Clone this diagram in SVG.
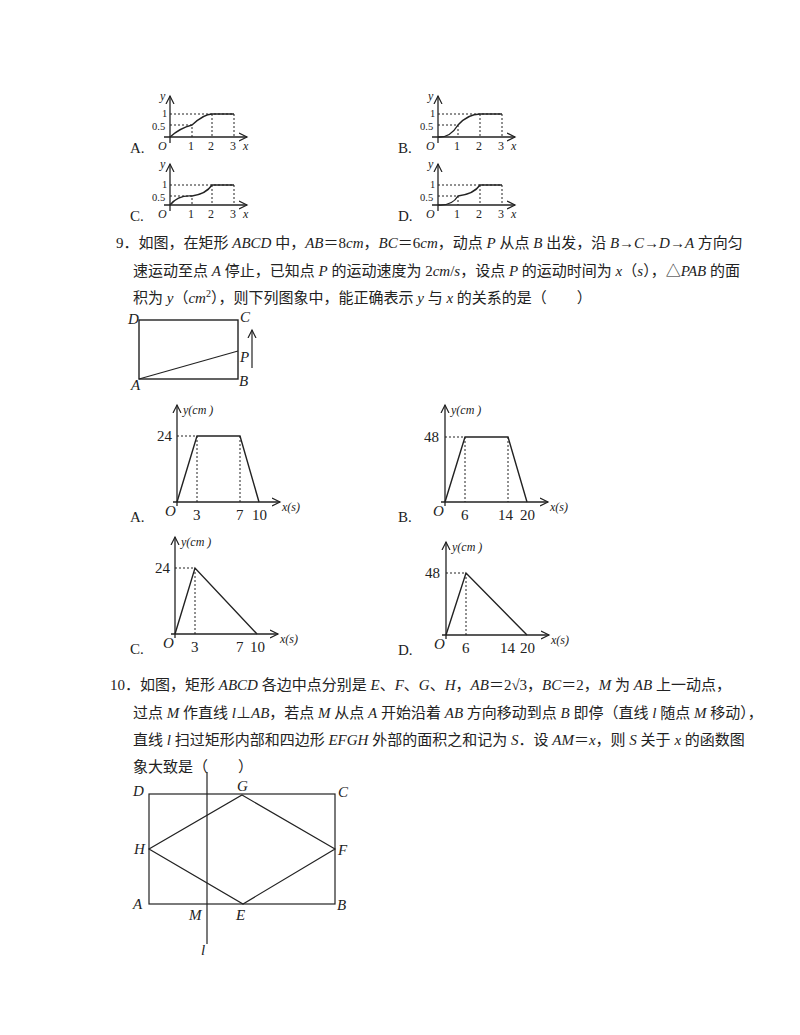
<svg xmlns="http://www.w3.org/2000/svg" width="800" height="1035" viewBox="0 0 800 1035">
<style>
.t{font-family:"Liberation Serif","Noto Sans CJK SC",serif;font-size:15px;fill:#222}
.s{font-family:"Liberation Serif",serif;font-size:12px;fill:#222}
.k{font-family:"Liberation Serif",serif;font-size:10.5px;fill:#222}
.i{font-style:italic}
.ax{stroke:#222;stroke-width:1.3;fill:none}
.d{stroke:#222;stroke-width:1;stroke-dasharray:2,2;fill:none}
.c{stroke:#222;stroke-width:1.4;fill:none}
.l{stroke:#222;stroke-width:1.2;fill:none}
</style>
<defs>
<marker id="ar" markerWidth="10" markerHeight="10" refX="8" refY="5" orient="auto" markerUnits="userSpaceOnUse"><path d="M0,1 L8,5 L0,9" fill="none" stroke="#222" stroke-width="1.2"/></marker>
</defs>
<rect width="800" height="1035" fill="#fff"/>

<g id="g8A">
<line class="ax" x1="170" y1="143" x2="170" y2="96" marker-end="url(#ar)"/><line class="ax" x1="164" y1="137" x2="247" y2="137" marker-end="url(#ar)"/>
<path class="d" d="M170 114H234V137M170 125H192V137M212 114V137"/>
<path class="c" d="M170 137Q180 128 192 125Q204 114 212 114H234"/>
<text class="s i" x="160" y="100">y</text><text class="k" x="162" y="117">1</text><text class="k" x="152" y="130">0.5</text>
<text class="s i" x="158" y="150">O</text><text class="s" x="188" y="150">1</text><text class="s" x="208" y="150">2</text><text class="s" x="230" y="150">3</text><text class="s i" x="243" y="150">x</text>
<text class="t" x="130" y="153">A.</text>
</g>
<g id="g8B">
<line class="ax" x1="438" y1="143" x2="438" y2="96" marker-end="url(#ar)"/><line class="ax" x1="432" y1="137" x2="515" y2="137" marker-end="url(#ar)"/>
<path class="d" d="M438 114H502V137M438 125H458V137M480 114V137"/>
<path class="c" d="M438 137Q450 138 458 125Q468 114 480 114H502"/>
<text class="s i" x="428" y="100">y</text><text class="k" x="430" y="117">1</text><text class="k" x="420" y="130">0.5</text>
<text class="s i" x="426" y="150">O</text><text class="s" x="454" y="150">1</text><text class="s" x="476" y="150">2</text><text class="s" x="498" y="150">3</text><text class="s i" x="511" y="150">x</text>
<text class="t" x="398" y="153">B.</text>
</g>
<g id="g8C">
<line class="ax" x1="170" y1="211" x2="170" y2="164" marker-end="url(#ar)"/><line class="ax" x1="164" y1="205" x2="247" y2="205" marker-end="url(#ar)"/>
<path class="d" d="M170 185H234V205M170 196H192V205M212 185V205"/>
<path class="c" d="M170 205Q178 195 192 196Q206 194 212 185H234"/>
<text class="s i" x="160" y="168">y</text><text class="k" x="162" y="188">1</text><text class="k" x="152" y="201">0.5</text>
<text class="s i" x="158" y="218">O</text><text class="s" x="188" y="218">1</text><text class="s" x="208" y="218">2</text><text class="s" x="230" y="218">3</text><text class="s i" x="243" y="218">x</text>
<text class="t" x="130" y="221">C.</text>
</g>
<g id="g8D">
<line class="ax" x1="438" y1="211" x2="438" y2="164" marker-end="url(#ar)"/><line class="ax" x1="432" y1="205" x2="515" y2="205" marker-end="url(#ar)"/>
<path class="d" d="M438 185H502V205M438 196H458V205M480 185V205"/>
<path class="c" d="M438 205Q452 206 458 196Q474 194 480 185H502"/>
<text class="s i" x="428" y="168">y</text><text class="k" x="430" y="188">1</text><text class="k" x="420" y="201">0.5</text>
<text class="s i" x="426" y="218">O</text><text class="s" x="454" y="218">1</text><text class="s" x="476" y="218">2</text><text class="s" x="498" y="218">3</text><text class="s i" x="511" y="218">x</text>
<text class="t" x="398" y="221">D.</text>
</g>

<g id="q9">
<text class="t" x="116" y="248">9．如图，在矩形 <tspan class="i">ABCD</tspan> 中，<tspan class="i">AB</tspan>＝8<tspan class="i">cm</tspan>，<tspan class="i">BC</tspan>＝6<tspan class="i">cm</tspan>，动点 <tspan class="i">P</tspan> 从点 <tspan class="i">B</tspan> 出发，沿 <tspan class="i">B</tspan>→<tspan class="i">C</tspan>→<tspan class="i">D</tspan>→<tspan class="i">A</tspan> 方向匀</text>
<text class="t" x="133" y="276">速运动至点 <tspan class="i">A</tspan> 停止，已知点 <tspan class="i">P</tspan> 的运动速度为 2<tspan class="i">cm</tspan>/<tspan class="i">s</tspan>，设点 <tspan class="i">P</tspan> 的运动时间为 <tspan class="i">x</tspan>（<tspan class="i">s</tspan>），△<tspan class="i">PAB</tspan> 的面</text>
<text class="t" x="133" y="303">积为 <tspan class="i">y</tspan>（<tspan class="i">cm</tspan><tspan font-size="10" dy="-6">2</tspan><tspan dy="6">），则下列图象中，能正确表示 </tspan><tspan class="i">y</tspan> 与 <tspan class="i">x</tspan> 的关系的是（　　）</text>
</g>
<g id="fig9">
<rect class="c" x="139" y="320" width="99" height="59"/>
<line class="l" x1="139" y1="379" x2="238" y2="351"/>
<line class="l" x1="252" y1="368" x2="252" y2="330" marker-end="url(#ar)"/>
<text class="t i" x="128" y="324">D</text><text class="t i" x="240" y="322">C</text><text class="t i" x="240" y="362">P</text><text class="t i" x="239" y="386">B</text><text class="t i" x="131" y="390">A</text>
</g>

<g id="g9A">
<line class="ax" x1="177" y1="506" x2="177" y2="405" marker-end="url(#ar)"/><line class="ax" x1="173" y1="502" x2="280" y2="502" marker-end="url(#ar)"/>
<path class="d" d="M177 436H197V502M240 436V502"/>
<path class="c" d="M177 502L197 436H240L259 502"/>
<text class="s i" x="183" y="414">y(cm )</text><text class="t" x="157" y="441">24</text>
<text class="t i" x="165" y="516">O</text><text class="t" x="193" y="520">3</text><text class="t" x="236" y="520">7</text><text class="t" x="252" y="520">10</text><text class="s i" x="282" y="511">x(s)</text>
<text class="t" x="130" y="522">A.</text>
</g>
<g id="g9B">
<line class="ax" x1="445" y1="506" x2="445" y2="405" marker-end="url(#ar)"/><line class="ax" x1="441" y1="502" x2="548" y2="502" marker-end="url(#ar)"/>
<path class="d" d="M445 437H465V502M508 437V502"/>
<path class="c" d="M445 502L465 437H508L527 502"/>
<text class="s i" x="451" y="414">y(cm )</text><text class="t" x="424" y="442">48</text>
<text class="t i" x="433" y="516">O</text><text class="t" x="461" y="520">6</text><text class="t" x="498" y="520">14</text><text class="t" x="520" y="520">20</text><text class="s i" x="550" y="511">x(s)</text>
<text class="t" x="398" y="522">B.</text>
</g>
<g id="g9C">
<line class="ax" x1="175" y1="638" x2="175" y2="537" marker-end="url(#ar)"/><line class="ax" x1="171" y1="634" x2="278" y2="634" marker-end="url(#ar)"/>
<path class="d" d="M175 568H195V634"/>
<path class="c" d="M175 634L195 568L257 634"/>
<text class="s i" x="181" y="546">y(cm )</text><text class="t" x="155" y="573">24</text>
<text class="t i" x="163" y="648">O</text><text class="t" x="191" y="652">3</text><text class="t" x="236" y="652">7</text><text class="t" x="250" y="652">10</text><text class="s i" x="280" y="643">x(s)</text>
<text class="t" x="130" y="654">C.</text>
</g>
<g id="g9D">
<line class="ax" x1="446" y1="639" x2="446" y2="542" marker-end="url(#ar)"/><line class="ax" x1="442" y1="635" x2="549" y2="635" marker-end="url(#ar)"/>
<path class="d" d="M446 573H466V635"/>
<path class="c" d="M446 635L466 573L527 635"/>
<text class="s i" x="452" y="551">y(cm )</text><text class="t" x="425" y="578">48</text>
<text class="t i" x="434" y="649">O</text><text class="t" x="462" y="653">6</text><text class="t" x="500" y="653">14</text><text class="t" x="520" y="653">20</text><text class="s i" x="551" y="644">x(s)</text>
<text class="t" x="398" y="655">D.</text>
</g>

<g id="q10">
<text class="t" x="110" y="690">10．如图，矩形 <tspan class="i">ABCD</tspan> 各边中点分别是 <tspan class="i">E</tspan>、<tspan class="i">F</tspan>、<tspan class="i">G</tspan>、<tspan class="i">H</tspan>，<tspan class="i">AB</tspan>＝2√3，<tspan class="i">BC</tspan>＝2，<tspan class="i">M</tspan> 为 <tspan class="i">AB</tspan> 上一动点，</text>
<text class="t" x="133" y="718">过点 <tspan class="i">M</tspan> 作直线 <tspan class="i">l</tspan>⊥<tspan class="i">AB</tspan>，若点 <tspan class="i">M</tspan> 从点 <tspan class="i">A</tspan> 开始沿着 <tspan class="i">AB</tspan> 方向移动到点 <tspan class="i">B</tspan> 即停（直线 <tspan class="i">l</tspan> 随点 <tspan class="i">M</tspan> 移动），</text>
<text class="t" x="133" y="745">直线 <tspan class="i">l</tspan> 扫过矩形内部和四边形 <tspan class="i">EFGH</tspan> 外部的面积之和记为 <tspan class="i">S</tspan>．设 <tspan class="i">AM</tspan>＝<tspan class="i">x</tspan>，则 <tspan class="i">S</tspan> 关于 <tspan class="i">x</tspan> 的函数图</text>
<text class="t" x="133" y="772">象大致是（　　）</text>
</g>
<g id="fig10">
<rect class="l" x="149" y="794" width="186" height="110"/>
<path class="l" d="M242 795L335 849L243 904L149 849Z"/>
<line class="l" x1="207" y1="772" x2="207" y2="944"/>
<text class="t i" x="133" y="796">D</text><text class="t i" x="237" y="791">G</text><text class="t i" x="338" y="797">C</text>
<text class="t i" x="134" y="854">H</text><text class="t i" x="338" y="855">F</text>
<text class="t i" x="133" y="909">A</text><text class="t i" x="189" y="920">M</text><text class="t i" x="236" y="920">E</text><text class="t i" x="337" y="910">B</text>
<text class="t i" x="201" y="955">l</text>
</g>
</svg>
